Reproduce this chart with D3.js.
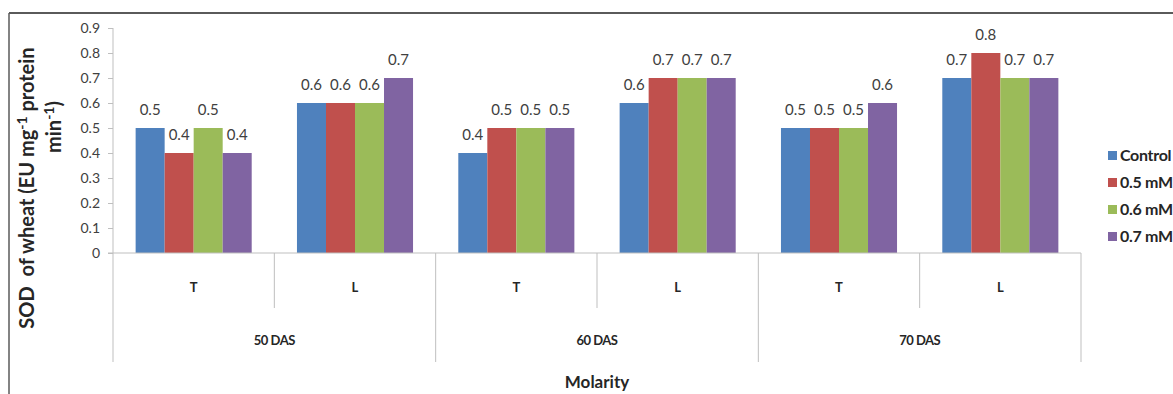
<!DOCTYPE html>
<html>
<head>
<meta charset="utf-8">
<script src="https://cdn.jsdelivr.net/npm/d3@7/dist/d3.min.js"></script>
<style>
  html, body { margin: 0; padding: 0; background: #fff; overflow: hidden; }
  svg { display: block; font-family: Lato, "Open Sans", sans-serif; }
</style>
</head>
<body>
<svg id="chart" width="1173" height="394"></svg>
<script>
// Sampling stages, tissues within each stage, and the four treatments
const stages = ["50 DAS", "60 DAS", "70 DAS"];
const tissues = ["T", "L"];
const seriesNames = ["Control", "0.5 mM", "0.6 mM", "0.7 mM"];
const seriesColors = ["#4F81BD", "#C0504D", "#9BBB59", "#8064A2"];

// SOD activity per stage/tissue slot (50T, 50L, 60T, 60L, 70T, 70L)
const control = [0.5, 0.6, 0.4, 0.6, 0.5, 0.7];
const mM05    = [0.4, 0.6, 0.5, 0.7, 0.5, 0.8];
const mM06    = [0.5, 0.6, 0.5, 0.7, 0.5, 0.7];
const mM07    = [0.4, 0.7, 0.5, 0.7, 0.6, 0.7];

const yTicks = [0, 0.1, 0.2, 0.3, 0.4, 0.5, 0.6, 0.7, 0.8, 0.9];
const yTickLabels = ["0", "0.1", "0.2", "0.3", "0.4", "0.5", "0.6", "0.7", "0.8", "0.9"];

const seriesValues = [control, mM05, mM06, mM07];
const slots = [];
stages.forEach(s => tissues.forEach(t => slots.push(s + "|" + t)));

const svg = d3.select("#chart");
const axisColor = "#BFBFBF";

const plotLeft = 113, plotRight = 1081, plotTop = 28, base = 253;
const tissueBottom = 308, stageBottom = 362;

const x0 = d3.scaleBand().domain(slots).range([plotLeft, plotRight]).padding(0);
const x1 = d3.scaleBand().domain(seriesNames).range([0, x0.bandwidth()])
  .paddingInner(0).paddingOuter(0.78);
const y = d3.scaleLinear().domain([0, 0.9]).range([base, plotTop]);

// Outer frame (top and left edges)
svg.append("line").attr("x1", 9).attr("x2", 1173).attr("y1", 13).attr("y2", 13)
  .attr("stroke", "#5a5a5a").attr("stroke-width", 2);
svg.append("line").attr("x1", 9).attr("x2", 9).attr("y1", 13).attr("y2", 394)
  .attr("stroke", "#5a5a5a").attr("stroke-width", 1.5);

// Y axis
const yAxis = d3.axisLeft(y).tickValues(yTicks)
  .tickFormat((d, i) => yTickLabels[i]).tickSize(5).tickPadding(8);
const gy = svg.append("g").attr("transform", `translate(${plotLeft},0)`).call(yAxis);
gy.select(".domain").remove();
gy.selectAll(".tick line").attr("stroke", axisColor);
gy.selectAll(".tick text").attr("fill", "#404040").style("font-size", "14px")
  .style("font-family", "Lato, sans-serif");
svg.append("line").attr("x1", plotLeft).attr("x2", plotLeft).attr("y1", plotTop).attr("y2", stageBottom)
  .attr("stroke", axisColor);

// Bars
const slotG = svg.append("g").selectAll("g").data(slots).join("g")
  .attr("transform", d => `translate(${x0(d)},0)`);
slotG.selectAll("rect")
  .data((d, i) => seriesNames.map((n, k) => ({ name: n, k, v: seriesValues[k][i] })))
  .join("rect")
  .attr("x", d => x1(d.name))
  .attr("y", d => y(d.v))
  .attr("width", x1.bandwidth())
  .attr("height", d => base - y(d.v))
  .attr("fill", d => seriesColors[d.k]);

// Value labels
slotG.selectAll("text.val")
  .data((d, i) => seriesNames.map((n, k) => ({ name: n, k, v: seriesValues[k][i] })))
  .join("text").attr("class", "val")
  .attr("x", d => x1(d.name) + x1.bandwidth() / 2)
  .attr("y", d => y(d.v) - 13)
  .attr("text-anchor", "middle")
  .attr("fill", "#404040")
  .style("font-size", "15px")
  .text(d => d.v.toFixed(1));

// Baseline
svg.append("line").attr("x1", plotLeft - 5).attr("x2", plotRight).attr("y1", base).attr("y2", base)
  .attr("stroke", axisColor);

// Category dividers: tissue level (short) and stage level (long)
slots.forEach((s, i) => {
  if (i === 0) return;
  const xx = x0(s);
  const isStage = i % tissues.length === 0;
  svg.append("line").attr("x1", xx).attr("x2", xx).attr("y1", base)
    .attr("y2", isStage ? stageBottom : tissueBottom).attr("stroke", axisColor);
});
svg.append("line").attr("x1", plotRight).attr("x2", plotRight).attr("y1", base).attr("y2", stageBottom)
  .attr("stroke", axisColor);

// Tissue labels
svg.append("g").selectAll("text").data(slots).join("text")
  .attr("x", d => x0(d) + x0.bandwidth() / 2)
  .attr("y", 292)
  .attr("text-anchor", "middle")
  .attr("fill", "#262626").style("font-size", "13px").style("font-weight", "bold")
  .text(d => d.split("|")[1]);

// Stage labels
svg.append("g").selectAll("text").data(stages).join("text")
  .attr("x", d => x0(d + "|T") + x0.bandwidth())
  .attr("y", 345)
  .attr("text-anchor", "middle")
  .attr("fill", "#262626").style("font-size", "13px").style("font-weight", "bold")
  .style("letter-spacing", "-0.5px")
  .text(d => d);

// X axis title
svg.append("text").attr("x", (plotLeft + plotRight) / 2).attr("y", 388)
  .attr("text-anchor", "middle").attr("fill", "#262626")
  .style("font-size", "17px").style("font-weight", "bold")
  .text("Molarity");

// Y axis title (two lines, with superscripts)
const t1 = svg.append("text").attr("transform", "translate(34,188) rotate(-90)")
  .attr("text-anchor", "middle").attr("fill", "#262626")
  .style("font-size", "20px").style("font-weight", "bold");
t1.append("tspan").text("SOD\u00A0 of wheat (EU mg");
t1.append("tspan").attr("dy", -7).style("font-size", "14px").text("-1");
t1.append("tspan").attr("dy", 7).text(" protein");
const t2 = svg.append("text").attr("transform", "translate(61,127) rotate(-90)")
  .attr("text-anchor", "middle").attr("fill", "#262626")
  .style("font-size", "20px").style("font-weight", "bold");
t2.append("tspan").text("min");
t2.append("tspan").attr("dy", -7).style("font-size", "14px").text("-1");
t2.append("tspan").attr("dy", 7).text(")");

// Legend
const lg = svg.append("g").selectAll("g").data(seriesNames).join("g")
  .attr("transform", (d, i) => `translate(1108,${155 + i * 27})`);
lg.append("rect").attr("x", 0).attr("y", -4).attr("width", 9).attr("height", 9)
  .attr("fill", (d, i) => seriesColors[i]);
lg.append("text").attr("x", 12).attr("y", 6)
  .attr("fill", "#262626").style("font-size", "16px").style("font-weight", "bold")
  .style("letter-spacing", "-0.3px")
  .text(d => d);
</script>
</body>
</html>
